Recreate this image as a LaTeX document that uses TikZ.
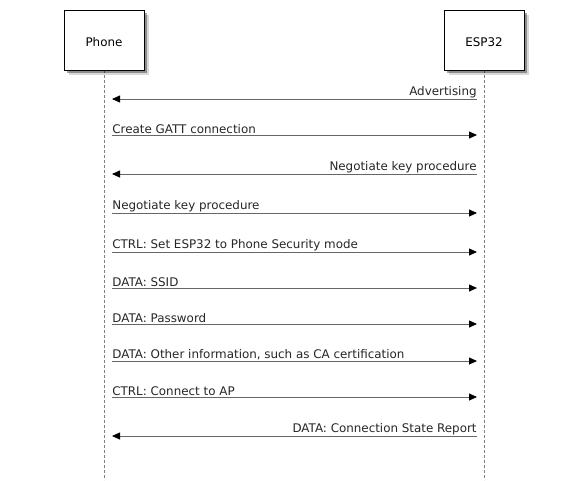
\documentclass[tikz,border=0pt]{standalone}
\usepackage{fontspec}
\setmainfont{DejaVu Sans}
\usetikzlibrary{positioning,arrows.meta,shadows}

\tikzset{
  actor/.style={draw=black, line width=0.9pt, fill=white, minimum width=80pt, minimum height=60pt,
    text height=13pt, text depth=0pt,
    drop shadow={shadow xshift=4.5pt, shadow yshift=-4.5pt, fill=black, opacity=0.15},
    drop shadow={shadow xshift=3pt, shadow yshift=-3pt, fill=black, opacity=0.35}},
  lifeline/.style={draw=black!50, line width=0.8pt, dash pattern=on 3pt off 2pt},
  msg/.style={draw=black!60, line width=0.8pt, -{Triangle[length=8pt,width=7pt,black]}},
  tolbl/.style={pos=0, anchor=south west, inner xsep=0pt, inner ysep=1pt, text=black!85},
  fromlbl/.style={pos=0, anchor=south east, inner xsep=0pt, inner ysep=1pt, text=black!85}
}

\begin{document}
\begin{tikzpicture}[x=1pt, y=-1pt, font=\fontsize{11.9}{14}\selectfont]
    \useasboundingbox (0,0) rectangle (588,480);

    % lifelines
    \coordinate (phoneend) at (104,480);
    \coordinate (espend) at (484,480);
    \draw[lifeline] (104,70) -- (phoneend);
    \draw[lifeline] (484,70) -- (espend);

    % actors
    \node[actor] (phone) at (104,40) {Phone};
    \node[actor] (esp) at (484,40) {ESP32};

    % message rows
    \foreach \n/\y in {1/99,2/135,3/174,4/213,5/252,6/288,7/324,8/361,9/397,10/436} {
        \coordinate (ph\n) at (112,\y);
        \coordinate (es\n) at (477,\y);
    }

    \draw[msg] (es1) -- node[fromlbl] {Advertising} (ph1);
    \draw[msg] (ph2) -- node[tolbl] {Create GATT connection} (es2);
    \draw[msg] (es3) -- node[fromlbl] {Negotiate key procedure} (ph3);
    \draw[msg] (ph4) -- node[tolbl] {Negotiate key procedure} (es4);
    \draw[msg] (ph5) -- node[tolbl] {CTRL: Set ESP32 to Phone Security mode} (es5);
    \draw[msg] (ph6) -- node[tolbl] {DATA: SSID} (es6);
    \draw[msg] (ph7) -- node[tolbl] {DATA: Password} (es7);
    \draw[msg] (ph8) -- node[tolbl] {DATA: Other information, such as CA certification} (es8);
    \draw[msg] (ph9) -- node[tolbl] {CTRL: Connect to AP} (es9);
    \draw[msg] (es10) -- node[fromlbl] {DATA: Connection State Report} (ph10);
\end{tikzpicture}
\end{document}
